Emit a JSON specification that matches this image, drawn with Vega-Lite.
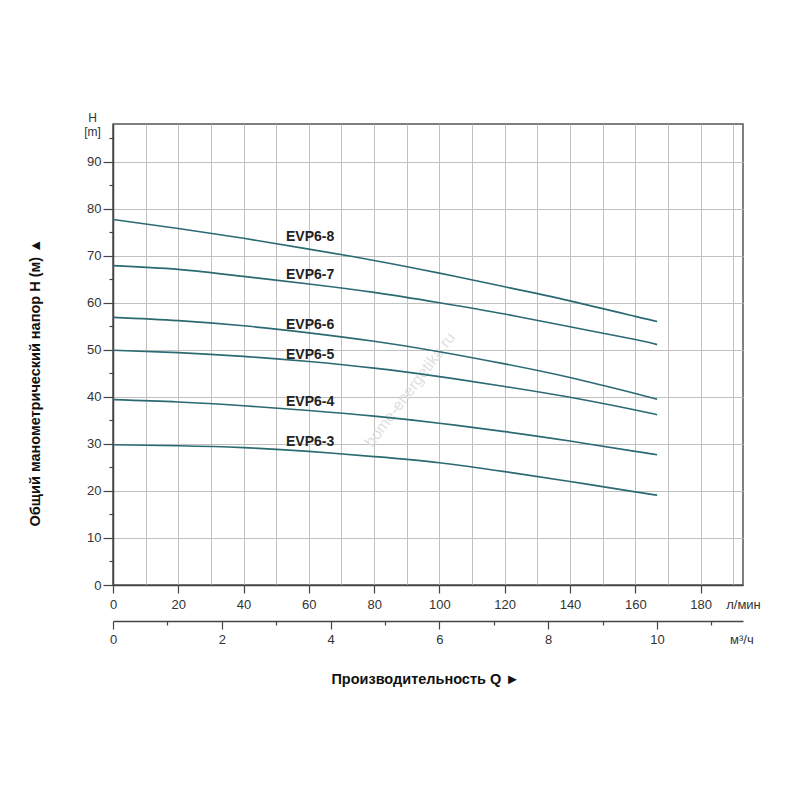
{
  "$schema": "https://vega.github.io/schema/vega-lite/v6.json",
  "autosize": {"type": "none"},
  "width": 630,
  "height": 461,
  "padding": {"left": 113, "top": 124, "right": 57, "bottom": 215},
  "background": "white",
  "config": {
    "view": {"stroke": "#555", "strokeWidth": 1.5},
    "font": "Liberation Sans",
    "axis": {
      "labelFont": "Liberation Sans",
      "labelFontSize": 13,
      "labelColor": "#333",
      "titleFont": "Liberation Sans",
      "domainColor": "#444",
      "domainWidth": 1.5,
      "tickColor": "#444",
      "tickWidth": 1.2,
      "gridColor": "#c0c0c0",
      "gridWidth": 1,
      "labelOverlap": false,
      "labelFlush": false
    }
  },
  "datasets": {
    "curves": [
      {"pump": "EVP6-8", "q": 0, "h": 77.7},
      {"pump": "EVP6-8", "q": 20, "h": 75.8},
      {"pump": "EVP6-8", "q": 40, "h": 73.7},
      {"pump": "EVP6-8", "q": 60, "h": 71.4},
      {"pump": "EVP6-8", "q": 80, "h": 69.0},
      {"pump": "EVP6-8", "q": 100, "h": 66.3},
      {"pump": "EVP6-8", "q": 120, "h": 63.4},
      {"pump": "EVP6-8", "q": 140, "h": 60.4},
      {"pump": "EVP6-8", "q": 160, "h": 57.1},
      {"pump": "EVP6-8", "q": 166.7, "h": 56.0},
      {"pump": "EVP6-7", "q": 0, "h": 67.9},
      {"pump": "EVP6-7", "q": 20, "h": 67.1},
      {"pump": "EVP6-7", "q": 40, "h": 65.6},
      {"pump": "EVP6-7", "q": 60, "h": 64.0},
      {"pump": "EVP6-7", "q": 80, "h": 62.2},
      {"pump": "EVP6-7", "q": 100, "h": 60.0},
      {"pump": "EVP6-7", "q": 120, "h": 57.6},
      {"pump": "EVP6-7", "q": 140, "h": 54.9},
      {"pump": "EVP6-7", "q": 160, "h": 52.2},
      {"pump": "EVP6-7", "q": 166.7, "h": 51.1},
      {"pump": "EVP6-6", "q": 0, "h": 56.9},
      {"pump": "EVP6-6", "q": 20, "h": 56.2},
      {"pump": "EVP6-6", "q": 40, "h": 55.1},
      {"pump": "EVP6-6", "q": 60, "h": 53.6},
      {"pump": "EVP6-6", "q": 80, "h": 51.8},
      {"pump": "EVP6-6", "q": 100, "h": 49.6},
      {"pump": "EVP6-6", "q": 120, "h": 47.0},
      {"pump": "EVP6-6", "q": 140, "h": 44.1},
      {"pump": "EVP6-6", "q": 160, "h": 40.7},
      {"pump": "EVP6-6", "q": 166.7, "h": 39.5},
      {"pump": "EVP6-5", "q": 0, "h": 49.9},
      {"pump": "EVP6-5", "q": 20, "h": 49.4},
      {"pump": "EVP6-5", "q": 40, "h": 48.6},
      {"pump": "EVP6-5", "q": 60, "h": 47.5},
      {"pump": "EVP6-5", "q": 80, "h": 46.1},
      {"pump": "EVP6-5", "q": 100, "h": 44.3},
      {"pump": "EVP6-5", "q": 120, "h": 42.2},
      {"pump": "EVP6-5", "q": 140, "h": 39.9},
      {"pump": "EVP6-5", "q": 160, "h": 37.2},
      {"pump": "EVP6-5", "q": 166.7, "h": 36.2},
      {"pump": "EVP6-4", "q": 0, "h": 39.4},
      {"pump": "EVP6-4", "q": 20, "h": 38.9},
      {"pump": "EVP6-4", "q": 40, "h": 38.1},
      {"pump": "EVP6-4", "q": 60, "h": 37.1},
      {"pump": "EVP6-4", "q": 80, "h": 35.9},
      {"pump": "EVP6-4", "q": 100, "h": 34.4},
      {"pump": "EVP6-4", "q": 120, "h": 32.6},
      {"pump": "EVP6-4", "q": 140, "h": 30.6},
      {"pump": "EVP6-4", "q": 160, "h": 28.4},
      {"pump": "EVP6-4", "q": 166.7, "h": 27.7},
      {"pump": "EVP6-3", "q": 0, "h": 29.8},
      {"pump": "EVP6-3", "q": 20, "h": 29.6},
      {"pump": "EVP6-3", "q": 40, "h": 29.2},
      {"pump": "EVP6-3", "q": 60, "h": 28.4},
      {"pump": "EVP6-3", "q": 80, "h": 27.3},
      {"pump": "EVP6-3", "q": 100, "h": 26.0},
      {"pump": "EVP6-3", "q": 120, "h": 24.1},
      {"pump": "EVP6-3", "q": 140, "h": 22.0},
      {"pump": "EVP6-3", "q": 160, "h": 19.8},
      {"pump": "EVP6-3", "q": 166.7, "h": 19.1}
    ],
    "labels": [
      {"pump": "EVP6-8", "q": 53, "h": 74.0},
      {"pump": "EVP6-7", "q": 53, "h": 66.0},
      {"pump": "EVP6-6", "q": 53, "h": 55.3},
      {"pump": "EVP6-5", "q": 53, "h": 48.9},
      {"pump": "EVP6-4", "q": 53, "h": 38.9},
      {"pump": "EVP6-3", "q": 53, "h": 30.4}
    ],
    "watermark": [
      {"text": "home-energetika.ru", "q": 91, "h": 41.5}
    ]
  },
  "resolve": {"axis": {"x": "independent", "y": "independent"}},
  "layer": [
    {
      "data": {"name": "watermark"},
      "mark": {"type": "text", "angle": -53, "fontSize": 16, "color": "#e0e0e0", "align": "center", "baseline": "middle"},
      "encoding": {
        "x": {"field": "q", "type": "quantitative", "axis": null, "scale": {"domain": [0, 193], "nice": false, "zero": false}},
        "y": {"field": "h", "type": "quantitative", "axis": null, "scale": {"domain": [0, 98], "nice": false, "zero": false}},
        "text": {"field": "text"}
      }
    },
    {
      "data": {"name": "curves"},
      "mark": {"type": "line", "interpolate": "natural", "strokeWidth": 1.6, "color": "#2b6a73"},
      "encoding": {
        "x": {
          "field": "q",
          "type": "quantitative",
          "axis": {
            "orient": "bottom",
            "title": null,
            "values": [0, 10, 20, 30, 40, 50, 60, 70, 80, 90, 100, 110, 120, 130, 140, 150, 160, 170, 180, 190, 193],
            "labelExpr": "datum.value == 193 ? 'л/мин' : (datum.value % 20 == 0 ? format(datum.value, 'd') : '')",
            "tickSize": 8,
            "tickOpacity": {"condition": {"test": "datum.value % 20 == 0", "value": 1}, "value": 0},
            "gridOpacity": {"condition": {"test": "datum.value > 0 && datum.value < 193", "value": 1}, "value": 0},
            "labelPadding": 5,
            "grid": true
          }
        },
        "y": {
          "field": "h",
          "type": "quantitative",
          "axis": {
            "orient": "left",
            "values": [0, 5, 10, 15, 20, 25, 30, 35, 40, 45, 50, 55, 60, 65, 70, 75, 80, 85, 90, 95],
            "labelExpr": "datum.value % 10 == 0 ? format(datum.value, 'd') : ''",
            "tickSize": {"condition": {"test": "datum.value % 10 == 0", "value": 10}, "value": 4},
            "gridOpacity": {"condition": {"test": "datum.value % 10 == 0 && datum.value > 0", "value": 1}, "value": 0},
            "labelPadding": 2,
            "grid": true,
            "title": ["H", "[m]"],
            "titleAngle": 0,
            "titleAlign": "center",
            "titleBaseline": "top",
            "titleX": -21,
            "titleY": -12,
            "titleFontSize": 12,
            "titleFontWeight": "normal",
            "titleColor": "#333",
            "titleLineHeight": 14
          }
        },
        "detail": {"field": "pump"}
      }
    },
    {
      "data": {"name": "labels"},
      "mark": {"type": "text", "align": "left", "baseline": "middle", "fontSize": 14, "fontWeight": "bold", "color": "#222"},
      "encoding": {
        "x": {
          "field": "q",
          "type": "quantitative",
          "axis": {
            "orient": "bottom",
            "offset": 36,
            "grid": false,
            "values": [0, 16.667, 33.333, 50, 66.667, 83.333, 100, 116.667, 133.333, 150, 166.667, 183.333, 192.5],
            "labelExpr": "datum.value > 185 ? 'м³/ч' : (round(datum.value / 16.6667) % 2 == 0 ? format(round(datum.value / 16.6667), 'd') : '')",
            "tickSize": {"condition": {"test": "datum.value < 185 && round(datum.value / 16.6667) % 2 == 1", "value": 4}, "value": 8},
            "tickOpacity": {"condition": {"test": "datum.value > 185", "value": 0}, "value": 1},
            "labelPadding": 4,
            "title": "Производительность Q  ►",
            "titleFontSize": 14.5,
            "titleFontWeight": "bold",
            "titleColor": "#111",
            "titleY": 58,
            "titleX": 312,
            "titleBaseline": "middle"
          }
        },
        "y": {
          "field": "h",
          "type": "quantitative",
          "axis": {
            "orient": "left",
            "domain": false,
            "ticks": false,
            "labels": false,
            "grid": false,
            "title": "Общий манометрический напор H (м)  ▲",
            "titleFontSize": 14.5,
            "titleFontWeight": "bold",
            "titleColor": "#111",
            "titleAngle": -90,
            "titleX": -78,
            "titleY": 258,
            "titleAlign": "center",
            "titleBaseline": "middle"
          }
        },
        "text": {"field": "pump"}
      }
    }
  ]
}
